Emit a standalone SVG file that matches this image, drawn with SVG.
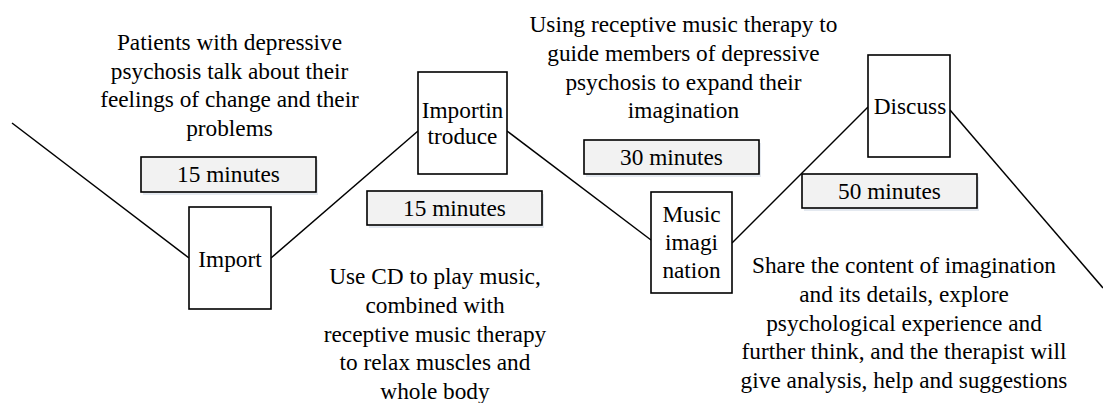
<svg xmlns="http://www.w3.org/2000/svg" width="1103" height="403" viewBox="0 0 1103 403">
<style>
.node{fill:#ffffff;stroke:#000000;stroke-width:1.6}
.dur{fill:#f2f2f2;stroke:#000000;stroke-width:1.6}
.sh{fill:#e4e9f0}
text{font-family:'Liberation Serif','Times New Roman','DejaVu Serif',serif;font-size:23.3px;fill:#000000;text-anchor:middle}
.conn{stroke:#000000;stroke-width:1.5;fill:none}
</style>
<rect width="1103" height="403" fill="#ffffff"/>
<g id="connectors">
<line class="conn" x1="12" y1="123" x2="189" y2="258"/>
<line class="conn" x1="271" y1="258" x2="418" y2="131"/>
<line class="conn" x1="507" y1="131" x2="651" y2="240"/>
<line class="conn" x1="732" y1="243" x2="868" y2="107"/>
<line class="conn" x1="950" y1="110" x2="1103" y2="288"/>
</g>
<g font-family="Liberation Serif, Times New Roman, DejaVu Serif, serif">
<g id="node-import">
<rect class="node" x="189" y="207" width="82" height="102"/>
<text x="230" y="267">Import</text>
</g>
<g id="node-importintroduce">
<rect class="node" x="418" y="72" width="89" height="102"/>
<text x="462.5" y="118">Importin</text>
<text x="462.5" y="144">troduce</text>
</g>
<g id="node-music-imagination">
<rect class="node" x="651" y="192" width="81" height="101"/>
<text x="691.5" y="222">Music</text>
<text x="691.5" y="250">imagi</text>
<text x="691.5" y="278">nation</text>
</g>
<g id="node-discuss">
<rect class="node" x="868" y="55" width="82" height="102"/>
<text x="910" y="114">Discuss</text>
</g>
<g id="dur-1">
<rect class="sh" x="143" y="160" width="175" height="35"/>
<rect class="dur" x="141" y="157" width="175" height="35"/>
<text x="228.5" y="182">15 minutes</text>
</g>
<g id="dur-2">
<rect class="sh" x="369" y="194" width="175" height="34"/>
<rect class="dur" x="367" y="191" width="175" height="34"/>
<text x="454.5" y="216">15 minutes</text>
</g>
<g id="dur-3">
<rect class="sh" x="586" y="143" width="175" height="34"/>
<rect class="dur" x="584" y="140" width="175" height="34"/>
<text x="671.5" y="165">30 minutes</text>
</g>
<g id="dur-4">
<rect class="sh" x="804" y="177" width="175" height="34"/>
<rect class="dur" x="802" y="174" width="175" height="34"/>
<text x="889.5" y="199">50 minutes</text>
</g>
<g id="note-1">
<text x="229.5" y="50">Patients with depressive</text>
<text x="229.5" y="78.5">psychosis talk about their</text>
<text x="229.5" y="107">feelings of change and their</text>
<text x="229.5" y="135.5">problems</text>
</g>
<g id="note-2">
<text x="435" y="284">Use CD to play music,</text>
<text x="435" y="313">combined with</text>
<text x="435" y="341.5">receptive music therapy</text>
<text x="435" y="370">to relax muscles and</text>
<text x="435" y="398.5">whole body</text>
</g>
<g id="note-3">
<text x="683.5" y="32">Using receptive music therapy to</text>
<text x="683.5" y="61">guide members of depressive</text>
<text x="683.5" y="89.5">psychosis to expand their</text>
<text x="683.5" y="118">imagination</text>
</g>
<g id="note-4">
<text x="904" y="273">Share the content of imagination</text>
<text x="904" y="302">and its details, explore</text>
<text x="904" y="330.5">psychological experience and</text>
<text x="904" y="359">further think, and the therapist will</text>
<text x="904" y="388">give analysis, help and suggestions</text>
</g>
</g>
</svg>
